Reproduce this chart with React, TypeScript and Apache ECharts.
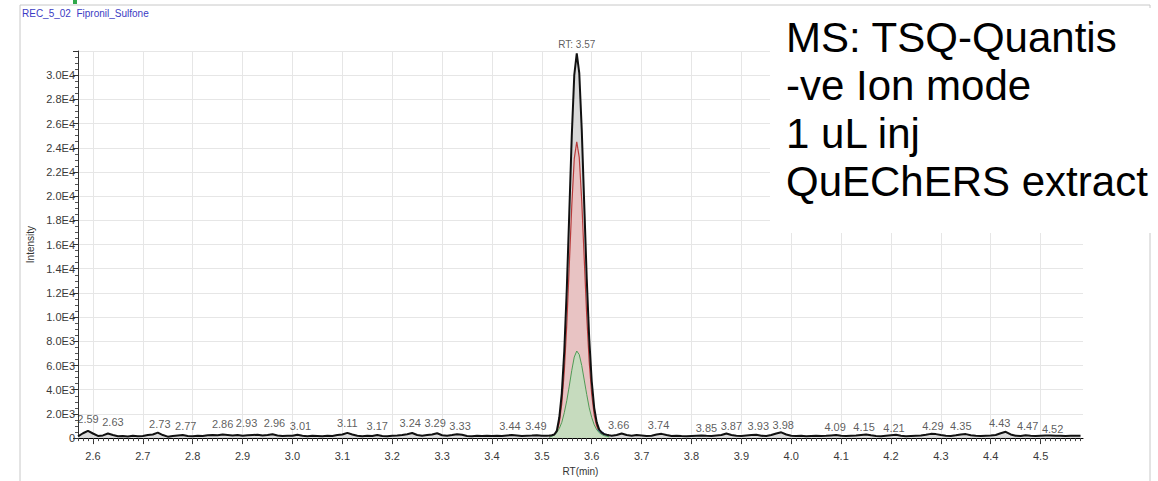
import React, { useEffect, useRef } from "react";
import * as echarts from "echarts";

// ---------- data ----------
// baseline before the peak: RT 2.57 .. 3.51, every 0.01 min
const baseAStart = 2.57;
const baseA = [
  150, 400, 600,
  380, 180, 220, 380, 260, 150, 180, 140, 200, 160,
  170, 260, 300, 450, 250, 120, 180, 220, 250, 180,
  150, 200, 170, 230, 260, 240, 300, 260, 220, 250,
  200, 230, 260, 280, 220, 260, 320, 220, 180, 200,
  190, 280, 200, 160, 190, 170, 150, 200, 180, 250,
  300, 430, 300, 200, 150, 200, 180, 260, 170, 150,
  200, 220, 250, 320, 420, 260, 200, 250, 300, 400,
  240, 200, 250, 320, 270, 180, 160, 200, 180, 190,
  170, 200, 180, 220, 260, 220, 180, 200, 210, 240,
  190, 200,
];
// peak region: RT 3.515 .. 3.635, every 0.005 min
const peakStart = 3.515;
const peakBlack = [
  210, 230, 300, 600, 1700, 3700, 7200, 12300, 18600, 25000, 30000, 31800,
  30200, 25500, 19300, 13200, 8200, 4700, 2500, 1300, 700, 450, 330, 270, 230,
];
const peakRed = [
  150, 170, 230, 460, 1300, 2850, 5500, 9400, 14300, 19200, 23100, 24500,
  23200, 19600, 14800, 10100, 6300, 3600, 1900, 1000, 540, 340, 250, 200, 170,
];
const peakGreen = [
  80, 150, 250, 450, 800, 1300, 2100, 3100, 4300, 5600, 6700, 7200,
  6900, 6000, 4800, 3600, 2500, 1700, 1100, 700, 450, 300, 200, 150, 100,
];
const peakBlue = [
  50, 150, 220, 400, 600, 700, 700, 700, 700, 700, 700, 700,
  700, 700, 700, 700, 700, 700, 700, 700, 650, 550, 400, 250, 100,
];
// baseline after the peak: RT 3.64 .. 4.58, every 0.01 min
const baseBStart = 3.64;
const baseB = [
  200, 250, 380, 250, 200, 260,
  220, 170, 200, 300, 350, 250, 180, 200, 170, 150,
  180, 200, 220, 190, 170, 210, 250, 380, 260, 200,
  180, 220, 250, 270, 200, 170, 250, 380, 480, 300,
  200, 170, 190, 160, 180, 200, 170, 190, 220, 250,
  200, 180, 200, 220, 260, 300, 230, 180, 160, 200,
  240, 270, 200, 160, 180, 200, 220, 280, 350, 330,
  250, 200, 180, 230, 300, 330, 240, 200, 180, 200,
  220, 260, 400, 520, 300, 200, 180, 240, 200, 180,
  200, 210, 220, 190, 200, 180, 190, 200, 190,
];

// labelled minor peaks along the baseline and the height of their labels
const peakLabelRT = [
  2.59, 2.63, 2.73, 2.77, 2.86, 2.93, 2.96, 3.01, 3.11, 3.17, 3.24, 3.29, 3.33,
  3.44, 3.49, 3.66, 3.74, 3.85, 3.87, 3.93, 3.98, 4.09, 4.15, 4.21, 4.29, 4.35,
  4.43, 4.47, 4.52,
];
const peakLabelLevel = [
  900, 650, 490, 330, 490, 570, 570, 330, 570, 330, 570, 570, 330,
  330, 330, 410, 410, 160, 330, 330, 410, 245, 245, 160, 330, 330,
  570, 330, 80,
];
// horizontal nudges (px) of the labels, as the data system placed them
const peakLabelShift = [
  0, 5, 2, 8, 0, -11, 2, 3, 0, 0, -2, -2, 3,
  -2, -1, -3, -3, -10, 5, 2, 2, -1, -2, -2, -3, -5,
  -6, 2, 2,
];
const mainPeakRT = 3.57;
const mainPeakHeight = 31800;

const xTicks = [
  2.6, 2.7, 2.8, 2.9, 3.0, 3.1, 3.2, 3.3, 3.4, 3.5, 3.6, 3.7, 3.8, 3.9, 4.0,
  4.1, 4.2, 4.3, 4.4, 4.5,
];
const xMin = 2.57;
const xMax = 4.585;
const yMax = 32000;
const noteLines = ["MS: TSQ-Quantis", "-ve Ion mode", "1 uL inj", "QuEChERS extract"];
const traceTitle = "REC_5_02  Fipronil_Sulfone";

// ---------- helpers ----------
const r3 = (v: number) => Math.round(v * 1000) / 1000;
const toPairs = (start: number, step: number, vals: number[]) =>
  vals.map((v, i) => [r3(start + i * step), v]);

const FONT = "Liberation Sans, Arial, sans-serif";

export default function App() {
  const ref = useRef<HTMLDivElement>(null);
  useEffect(() => {
    if (!ref.current) return;
    const chart = echarts.init(ref.current, undefined, { renderer: "svg" });

    const blackData = [
      ...toPairs(baseAStart, 0.01, baseA),
      ...toPairs(peakStart, 0.005, peakBlack),
      ...toPairs(baseBStart, 0.01, baseB),
    ];
    const redData = toPairs(peakStart, 0.005, peakRed);
    const greenData = toPairs(peakStart, 0.005, peakGreen);
    const blueData = toPairs(peakStart, 0.005, peakBlue);

    const minorTicks: number[] = [];
    for (let i = 0; i <= 201; i++) minorTicks.push(r3(2.57 + i * 0.01));

    const yFmt = (v: number) => {
      if (v === 0) return "0";
      if (v >= yMax) return "";
      if (v < 10000) return (v / 1000).toFixed(1) + "E3";
      return (v / 10000).toFixed(1) + "E4";
    };

    chart.setOption({
      animation: false,
      backgroundColor: "#ffffff",
      grid: { left: 78, right: 75, top: 51, bottom: 38, containLabel: false },
      xAxis: [
        {
          type: "value",
          min: xMin,
          max: xMax,
          position: "bottom",
          axisLine: { show: true, onZero: false, lineStyle: { color: "#000", width: 1 } },
          axisTick: { show: true, customValues: xTicks, length: 6, lineStyle: { color: "#333" } },
          axisLabel: {
            show: true,
            customValues: xTicks,
            formatter: (v: number) => v.toFixed(1),
            fontSize: 11,
            color: "#3a3a3a",
            margin: 12,
            fontFamily: FONT,
          },
          splitLine: { show: true, lineStyle: { color: "#e6e6e6", width: 1 } },
          name: "RT(min)",
          nameLocation: "middle",
          nameGap: 24,
          nameTextStyle: { fontSize: 10, color: "#333", fontFamily: FONT },
        },
        {
          type: "value",
          min: xMin,
          max: xMax,
          position: "bottom",
          axisLine: { show: false },
          axisTick: { show: true, customValues: minorTicks, length: 3, lineStyle: { color: "#444" } },
          axisLabel: { show: false },
          splitLine: { show: false },
        },
      ],
      yAxis: {
        type: "value",
        min: 0,
        max: yMax,
        interval: 2000,
        axisLine: { show: true, lineStyle: { color: "#333", width: 1 } },
        axisTick: { show: true, length: 5, lineStyle: { color: "#333" } },
        minorTick: { show: true, splitNumber: 4, length: 3, lineStyle: { color: "#555" } },
        axisLabel: { formatter: yFmt, fontSize: 11, color: "#3a3a3a", margin: 3, fontFamily: FONT },
        splitLine: { show: true, lineStyle: { color: "#e6e6e6", width: 1 } },
        name: "Intensity",
        nameLocation: "middle",
        nameGap: 42,
        nameRotate: 90,
        nameTextStyle: { fontSize: 10, color: "#333", fontFamily: FONT },
      },
      series: [
        {
          type: "line",
          data: blackData,
          symbol: "none",
          lineStyle: { width: 0, opacity: 0 },
          areaStyle: { color: "#d9d9d9", opacity: 1 },
          z: 2,
          silent: true,
        },
        {
          type: "line",
          data: redData,
          symbol: "none",
          lineStyle: { width: 1.2, color: "#b83a3a" },
          areaStyle: { color: "#e8c3c3", opacity: 1 },
          z: 3,
          silent: true,
        },
        {
          type: "line",
          data: blueData,
          symbol: "none",
          lineStyle: { width: 1, color: "#4f74b8" },
          areaStyle: { color: "#7f9fd4", opacity: 1 },
          z: 4,
          silent: true,
        },
        {
          type: "line",
          data: greenData,
          symbol: "none",
          lineStyle: { width: 1, color: "#4f9a55" },
          areaStyle: { color: "#c6dbbe", opacity: 1 },
          z: 5,
          silent: true,
        },
        {
          type: "line",
          data: blackData,
          symbol: "none",
          lineStyle: { width: 2, color: "#111" },
          z: 6,
          silent: true,
        },
        {
          type: "scatter",
          data: peakLabelRT.map((rt, i) => ({
            value: [rt, peakLabelLevel[i]],
            label: { offset: [peakLabelShift[i], 0] },
          })),
          symbolSize: 1,
          itemStyle: { color: "rgba(0,0,0,0)" },
          label: {
            show: true,
            position: "top",
            distance: 2,
            formatter: (p: any) => p.value[0].toFixed(2),
            fontSize: 11,
            color: "#333",
            fontFamily: FONT,
          },
          z: 7,
          silent: true,
        },
        {
          type: "scatter",
          data: [[mainPeakRT, mainPeakHeight]],
          symbolSize: 1,
          itemStyle: { color: "rgba(0,0,0,0)" },
          label: {
            show: true,
            position: "top",
            distance: 3,
            formatter: "RT: " + mainPeakRT.toFixed(2),
            fontSize: 10,
            color: "#333",
            fontFamily: FONT,
          },
          z: 7,
          silent: true,
        },
      ],
      graphic: [
        {
          type: "rect",
          shape: { x: 20, y: 5, width: 1130, height: 490 },
          style: { fill: "none", stroke: "#c8c8c8", lineWidth: 1 },
          silent: true,
          z: 0,
        },
        {
          type: "rect",
          shape: { x: 73, y: 0, width: 4, height: 4 },
          style: { fill: "#2fa84a" },
          silent: true,
        },
        {
          type: "text",
          x: 22,
          y: 13,
          style: {
            text: traceTitle,
            fill: "#3b3bc4",
            font: "10px " + FONT,
            textVerticalAlign: "middle",
          },
          silent: true,
        },
        {
          type: "rect",
          shape: { x: 770, y: 8, width: 388, height: 225 },
          style: { fill: "#ffffff" },
          silent: true,
          z: 100,
        },
        ...noteLines.map((t, i) => ({
          type: "text",
          x: 786,
          y: 37 + i * 48,
          z: 101,
          style: {
            text: t,
            fill: "#000",
            font: "42px " + FONT,
            textVerticalAlign: "middle",
          },
          silent: true,
        })),
      ],
    });
    return () => chart.dispose();
  }, []);
  return <div ref={ref} style={{ width: 1158, height: 481, position: "absolute", left: 0, top: 0 }} />;
}
